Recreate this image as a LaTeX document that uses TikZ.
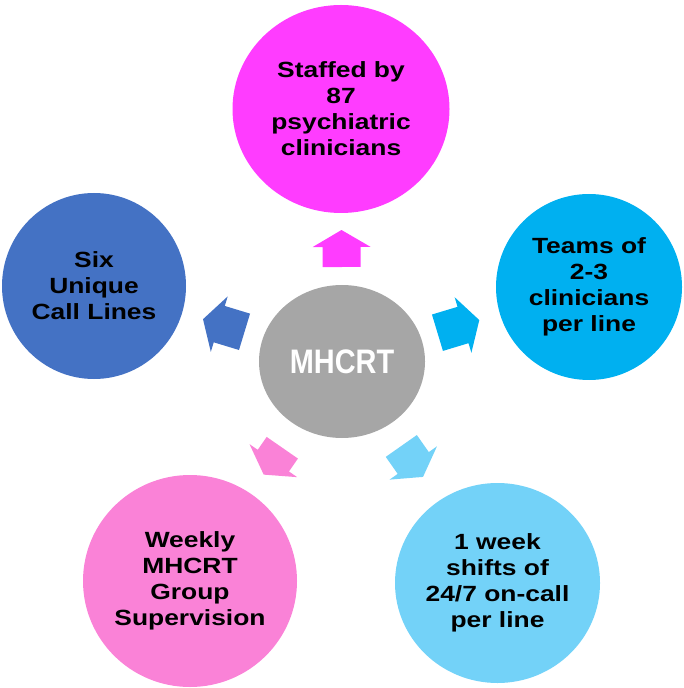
\documentclass[tikz,border=0pt]{standalone}
\usepackage{fontspec}
\setmainfont[FakeStretch=1.2]{Liberation Sans}
\newfontfamily\hubfont[FakeStretch=0.85]{Liberation Sans}
\usetikzlibrary{shapes.geometric, calc}
\definecolor{hubgray}{RGB}{166,166,166}
\definecolor{magentafill}{RGB}{255,60,255}
\definecolor{cyanfill}{RGB}{0,176,240}
\definecolor{bluefill}{RGB}{68,114,196}
\definecolor{pinkfill}{RGB}{250,130,215}
\definecolor{skyfill}{RGB}{115,210,248}
\tikzset{
  hub/.style={ellipse, inner sep=0pt, fill=hubgray, text=white, font=\hubfont\fontsize{17}{20}\selectfont\bfseries},
  bubble/.style={ellipse, inner sep=0pt, align=center, text=black, font=\fontsize{11}{13}\selectfont\bfseries}
}
% block arrow from the hub towards #1: back at #2, tip at #3 (from hub centre), colour #4
\newcommand{\spoke}[4]{%
  \coordinate (b) at ($(hub)!#2!(#1)$);
  \coordinate (t) at ($(hub)!#3!(#1)$);
  \coordinate (h) at ($(t)!8.5pt!(hub)$);
  \fill[#4] ($(b)!9.5pt!90:(t)$) -- ($(h)!9.5pt!-90:(b)$) -- ($(h)!14.5pt!-90:(b)$) -- (t)
    -- ($(h)!14.5pt!90:(b)$) -- ($(h)!9.5pt!90:(b)$) -- ($(b)!9.5pt!-90:(t)$) -- cycle;
}
\begin{document}
\begin{tikzpicture}[x=0.5pt, y=-0.5pt]

  \useasboundingbox (0,0) rectangle (683,688);

  \node (hub) [hub, minimum width=83pt, minimum height=76.5pt] at (342,361.5) {MHCRT};
  \node (staff) [bubble, fill=magentafill, minimum width=108.5pt, minimum height=104pt] at (341,109) {Staffed by\\87\\psychiatric\\clinicians};
  \node (teams) [bubble, fill=cyanfill, minimum width=93pt, minimum height=93pt] at (589,287) {Teams of\\2-3\\clinicians\\per line};
  \node (lines) [bubble, fill=bluefill, minimum width=92pt, minimum height=93pt] at (94,286) {Six\\Unique\\Call Lines};
  \node (weekly) [bubble, fill=pinkfill, minimum width=107pt, minimum height=106pt] at (190,581) {Weekly\\MHCRT\\Group\\Supervision};
  \node (shifts) [bubble, fill=skyfill, minimum width=102.5pt, minimum height=100pt] at (497.5,583) {1 week\\shifts of\\24/7 on-call\\per line};

  \spoke{staff}{47.25pt}{65.75pt}{magentafill}
  \spoke{teams}{49.85pt}{71.7pt}{cyanfill}
  \spoke{lines}{50.95pt}{72.65pt}{bluefill}
  \spoke{weekly}{52.45pt}{68.8pt}{pinkfill}
  \spoke{shifts}{51.6pt}{70.5pt}{skyfill}

\end{tikzpicture}
\end{document}
